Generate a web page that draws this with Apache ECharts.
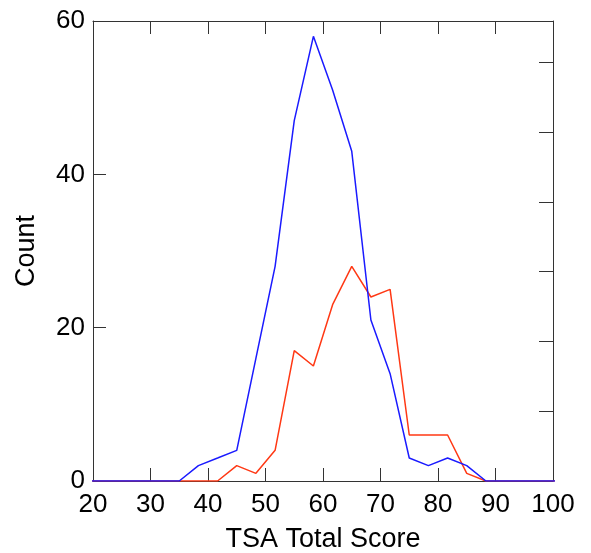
<!DOCTYPE html>
<html>
<head>
<meta charset="utf-8">
<script src="https://cdn.jsdelivr.net/npm/echarts@6/dist/echarts.min.js"></script>
<style>
  html, body { margin: 0; padding: 0; background: #fff; }
  #main { width: 591px; height: 553px; }
</style>
</head>
<body>
<div id="main"></div>
<script>
// bin centres of the score histogram (ends run past the axis and get clipped)
var scores = [18.33, 21.67, 25, 28.33, 31.67, 35, 38.33, 41.67, 45, 48.33, 51.67, 55, 58.33,
    61.67, 65, 68.33, 71.67, 75, 78.33, 81.67, 85, 88.33, 91.67, 95, 98.33, 101.67];
var blueCounts = [0, 0, 0, 0, 0, 0, 2, 3, 4, 16, 28, 47, 58, 51, 43, 21, 14, 3, 2, 3, 2, 0, 0, 0, 0, 0];
var redCounts = [0, 0, 0, 0, 0, 0, 0, 0, 2, 1, 4, 17, 15, 23, 28, 24, 25, 6, 6, 6, 1, 0, 0, 0, 0, 0];
var xTicks = [20, 30, 40, 50, 60, 70, 80, 90, 100];

var axisColor = '#333';
var font = 'Liberation Sans, Arial, sans-serif';

var pairs = (xs, ys) => xs.map((x, i) => [x, ys[i]]);

var chart = echarts.init(document.getElementById('main'));

var lineAxis = {
    show: true,
    onZero: false,
    lineStyle: { color: axisColor, width: 1 }
};
var tick = len => ({
    show: true,
    inside: true,
    length: len,
    lineStyle: { color: axisColor, width: 1 }
});

option = {
    animation: false,
    backgroundColor: '#fff',
    grid: { left: 93, right: 38, top: 21, bottom: 72, containLabel: false, outerBoundsMode: 'none' },
    xAxis: [
        {
            type: 'value',
            min: xTicks[0],
            max: xTicks[xTicks.length - 1],
            interval: 10,
            position: 'bottom',
            name: 'TSA Total Score',
            nameLocation: 'middle',
            nameGap: 45,
            nameTextStyle: { color: '#000', fontSize: 27, fontFamily: font },
            axisLine: lineAxis,
            axisTick: tick(13),
            axisLabel: { color: '#000', fontSize: 26, fontFamily: font, margin: 11 },
            splitLine: { show: false }
        },
        {
            type: 'value',
            min: xTicks[0],
            max: xTicks[xTicks.length - 1],
            interval: 10,
            position: 'top',
            axisLine: lineAxis,
            axisTick: tick(13),
            axisLabel: { show: false },
            splitLine: { show: false }
        }
    ],
    yAxis: [
        {
            type: 'value',
            min: 0,
            max: 60,
            interval: 20,
            position: 'left',
            name: 'Count',
            nameLocation: 'middle',
            nameGap: 53,
            nameTextStyle: { color: '#000', fontSize: 27, fontFamily: font },
            axisLine: lineAxis,
            axisTick: tick(13),
            axisLabel: { color: '#000', fontSize: 26, fontFamily: font, margin: 8 },
            splitLine: { show: false }
        },
        {
            type: 'value',
            min: 0,
            max: 6.59,
            interval: 1,
            position: 'right',
            axisLine: lineAxis,
            axisTick: tick(14),
            axisLabel: { show: false },
            splitLine: { show: false }
        }
    ],
    series: [
        {
            name: 'red',
            type: 'line',
            data: pairs(scores, redCounts),
            showSymbol: false,
            clip: true,
            lineStyle: { color: '#ff3814', width: 1.5 },
            itemStyle: { color: '#ff3814' }
        },
        {
            name: 'blue',
            type: 'line',
            data: pairs(scores, blueCounts),
            showSymbol: false,
            clip: true,
            lineStyle: { color: '#1a1aff', width: 1.5 },
            itemStyle: { color: '#1a1aff' }
        }
    ]
};
chart.setOption(option);
</script>
</body>
</html>
